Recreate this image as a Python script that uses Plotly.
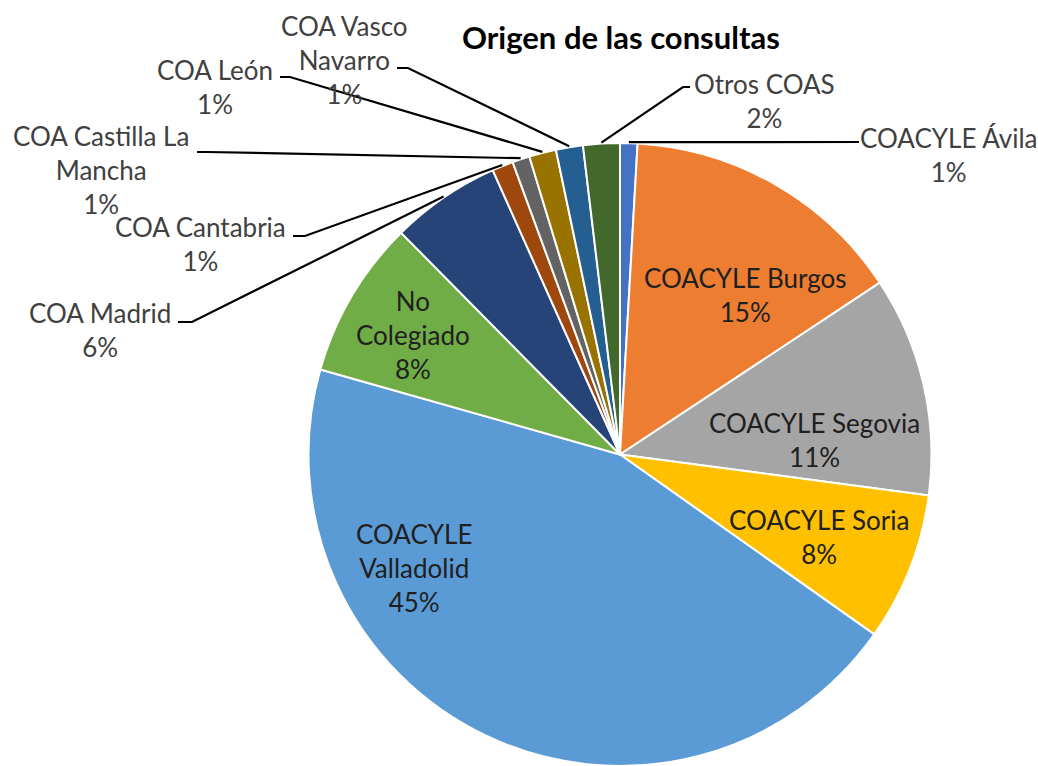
import math
import plotly.graph_objects as go

# ---------------- data ----------------
categories = ["COACYLE Ávila", "COACYLE Burgos", "COACYLE Segovia", "COACYLE Soria",
              "COACYLE Valladolid", "No Colegiado", "COA Madrid", "COA Cantabria",
              "COA Castilla La Mancha", "COA León", "COA Vasco Navarro", "Otros COAS"]
values = [0.9, 14.8, 11.4, 7.7, 44.6, 8.2, 5.7, 1.1, 0.9, 1.4, 1.4, 1.9]
display_names = ["COACYLE Ávila", "COACYLE Burgos", "COACYLE Segovia", "COACYLE Soria",
                 "COACYLE<br>Valladolid", "No<br>Colegiado", "COA Madrid", "COA Cantabria",
                 "COA Castilla La<br>Mancha", "COA León", "COA Vasco<br>Navarro", "Otros COAS"]
title_text = "Origen de las consultas"

# ---------------- style / layout ----------------
colors = ["#4472C4", "#ED7D31", "#A5A5A5", "#FFC000", "#5B9BD5", "#70AD47",
          "#264478", "#9E480E", "#636363", "#997300", "#255E91", "#43682B"]
W, H = 1038, 766
CX, CY, R = 620, 454.5, 311.5
FONT = "Lato"

# label block centres (px) and leader elbows (px) — None = inside label
label_pos = [(948, 155), (745, 295), (814, 440), (819, 537), (414, 568), (413, 335),
             (100, 330), (200, 244), (101, 170), (215, 87), (344, 60), (764, 101)]
elbows = [[(859, 142)], None, None, None, None, None,
          [(192, 322), (178, 322)], [(305, 236), (293, 236)], [(207, 152), (197, 152)],
          [(290, 77), (280, 77)], [(408, 68), (397, 68)], [(683, 87), (690, 87)]]


def px(x):
    return x / W


def py(y):
    return 1 - y / H


fig = go.Figure(go.Pie(
    values=values, labels=categories, sort=False, direction="clockwise", rotation=0,
    marker=dict(colors=colors, line=dict(color="white", width=2)),
    textinfo="none", hoverinfo="skip", showlegend=False,
    domain=dict(x=[(CX - R) / W, (CX + R) / W], y=[0, 2 * R / H]),
))

total = sum(values)
annotations = []
shapes = []
cum = 0.0
for i, v in enumerate(values):
    mid = (cum + v / 2) / total * 2 * math.pi
    cum += v
    pct = round(v / total * 100)
    txt = f"{display_names[i]}<br>{pct}%"
    lx, ly = label_pos[i]
    inside = elbows[i] is None
    annotations.append(dict(
        x=px(lx), y=py(ly), xref="paper", yref="paper", text=txt, showarrow=False,
        xanchor="center", yanchor="middle", align="center",
        font=dict(family=FONT, size=26, color="#202020" if inside else "#404040"),
    ))
    if not inside:
        sx = CX + (R + 1) * math.sin(mid)
        sy = CY - (R + 1) * math.cos(mid)
        pts = [(sx, sy)] + elbows[i]
        path = "M " + " L ".join(f"{px(a):.5f},{py(b):.5f}" for a, b in pts)
        shapes.append(dict(type="path", xref="paper", yref="paper", path=path,
                           line=dict(color="#000000", width=2.2)))

annotations.append(dict(
    x=px(621), y=py(37), xref="paper", yref="paper", text=f"<b>{title_text}</b>",
    showarrow=False, xanchor="center", yanchor="middle",
    font=dict(family=FONT, size=31, color="#000000"),
))

fig.update_layout(
    width=W, height=H, margin=dict(l=0, r=0, t=0, b=0),
    paper_bgcolor="white", plot_bgcolor="white",
    annotations=annotations, shapes=shapes,
)
fig.write_html(
    "out.html",
    config={"displayModeBar": False, "staticPlot": True},
    post_script="document.body.style.margin='0';document.body.style.overflow='hidden';",
)
